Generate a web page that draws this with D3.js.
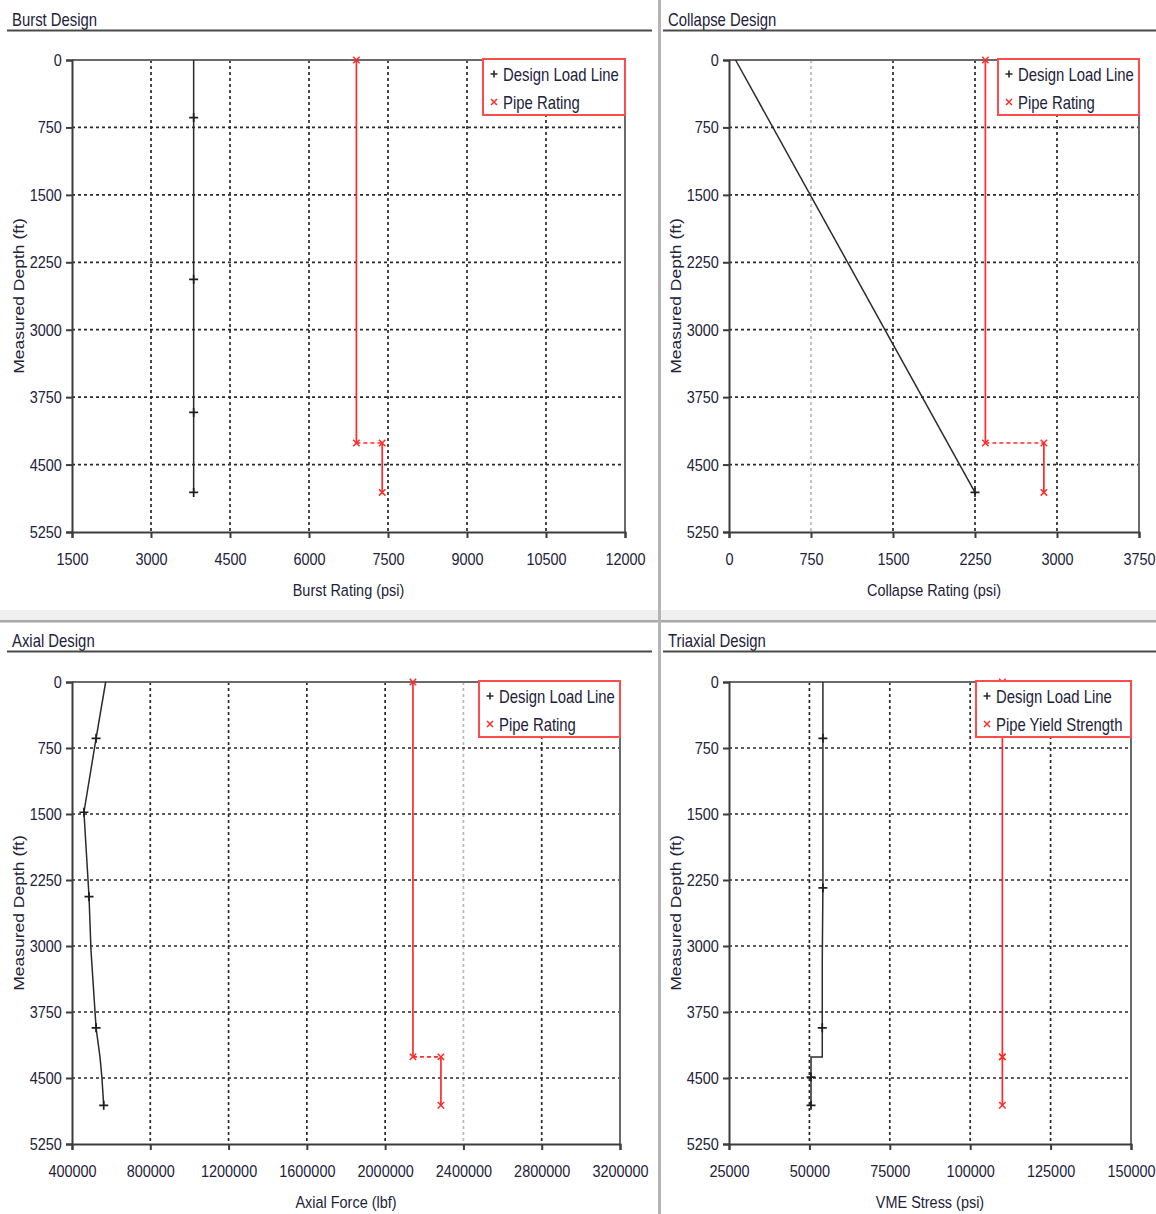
<!DOCTYPE html>
<html>
<head>
<meta charset="utf-8">
<script src="https://cdn.jsdelivr.net/npm/d3@7"></script>
<style>
  html, body { margin: 0; padding: 0; background: #fff; }
  svg { display: block; font-family: "Liberation Sans", Arial, sans-serif; }
</style>
</head>
<body>
<svg id="chart" width="1156" height="1214"></svg>
<script>
// ---- shared depth axis ----
const depthTicks = [0, 750, 1500, 2250, 3000, 3750, 4500, 5250];

// ---- Burst design ----
const burstTicks = [1500, 3000, 4500, 6000, 7500, 9000, 10500, 12000];
const burstLoadDepth = [0, 640, 2440, 3920, 4810];
const burstLoadPsi   = [3810, 3810, 3810, 3810, 3810];
const burstLoadMark  = [0, 1, 1, 1, 1];
const burstRatingDepth = [0, 4260, 4260, 4810];
const burstRatingPsi   = [6900, 6900, 7390, 7390];

// ---- Collapse design ----
const collapseTicks = [0, 750, 1500, 2250, 3000, 3750];
const collapseLoadDepth = [0, 4810];
const collapseLoadPsi   = [60, 2250];
const collapseLoadMark  = [0, 1];
const collapseRatingDepth = [0, 4260, 4260, 4810];
const collapseRatingPsi   = [2345, 2345, 2880, 2880];

// ---- Axial design ----
const axialTicks = [400000, 800000, 1200000, 1600000, 2000000, 2400000, 2800000, 3200000];
const axialLoadDepth = [0, 640, 1480, 2440, 3050, 3930, 4260, 4500, 4810];
const axialLoadLbf   = [572000, 523000, 461000, 487000, 497000, 523000, 543000, 553000, 562000];
const axialLoadMark  = [0, 1, 1, 1, 0, 1, 0, 0, 1];
const axialRatingDepth = [0, 4260, 4260, 4810];
const axialRatingLbf   = [2142000, 2142000, 2285000, 2285000];

// ---- Triaxial design ----
const triaxTicks = [25000, 50000, 75000, 100000, 125000, 150000];
const triaxLoadDepth = [0, 640, 2340, 3180, 3930, 4260, 4260, 4490, 4810];
const triaxLoadPsi   = [54200, 54200, 54200, 54000, 54000, 54000, 50500, 50500, 50500];
const triaxLoadMark  = [0, 1, 1, 0, 1, 0, 0, 1, 1];
const triaxYieldDepth = [0, 4260, 4260, 4810];
const triaxYieldPsi   = [110000, 110000, 110000, 110000];

const panels = [
  { title: "Burst Design", xLabel: "Burst Rating (psi)", ticks: burstTicks,
    load: { d: burstLoadDepth, v: burstLoadPsi, m: burstLoadMark },
    rating: { d: burstRatingDepth, v: burstRatingPsi },
    ratingName: "Pipe Rating", faint: [],
    hx: 7, hw: 645, hy: 26, box: [72, 625, 60, 532], legW: 142 },
  { title: "Collapse Design", xLabel: "Collapse Rating (psi)", ticks: collapseTicks,
    load: { d: collapseLoadDepth, v: collapseLoadPsi, m: collapseLoadMark },
    rating: { d: collapseRatingDepth, v: collapseRatingPsi },
    ratingName: "Pipe Rating", faint: [750],
    hx: 663, hw: 493, hy: 26, box: [729, 1139, 60, 532], legW: 141 },
  { title: "Axial Design", xLabel: "Axial Force (lbf)", ticks: axialTicks,
    load: { d: axialLoadDepth, v: axialLoadLbf, m: axialLoadMark },
    rating: { d: axialRatingDepth, v: axialRatingLbf },
    ratingName: "Pipe Rating", faint: [2400000],
    hx: 7, hw: 645, hy: 647, box: [72, 620, 682, 1144], legW: 141 },
  { title: "Triaxial Design", xLabel: "VME Stress (psi)", ticks: triaxTicks,
    load: { d: triaxLoadDepth, v: triaxLoadPsi, m: triaxLoadMark },
    rating: { d: triaxYieldDepth, v: triaxYieldPsi },
    ratingName: "Pipe Yield Strength", faint: [],
    hx: 663, hw: 493, hy: 647, box: [729, 1131, 682, 1144], legW: 155 }
];

const svg = d3.select("#chart");
const textColor = "#22223a";
const FS = 17;        // font size of all labels
const SQ = 0.85;      // horizontal squeeze of the narrow label face

// text drawn at (x, y) with a narrow face
function label(parent, x, y, str, opts = {}) {
  const size = opts.size || FS;
  const rot = opts.rotate || 0;
  const t = parent.append("text")
    .attr("transform", rot
      ? `translate(${x},${y}) rotate(${rot}) scale(1,${SQ})`
      : `translate(${x},${y}) scale(${SQ},1)`)
    .attr("font-size", size).attr("fill", textColor)
    .attr("text-anchor", opts.anchor || "start")
    .text(str);
  return t;
}

// panel separators
svg.append("rect").attr("x", 0).attr("y", 610).attr("width", 1156).attr("height", 11).attr("fill", "#f0f0f0");
svg.append("rect").attr("x", 0).attr("y", 620).attr("width", 1156).attr("height", 2.5).attr("fill", "#a8a8a8");
svg.append("rect").attr("x", 658).attr("y", 0).attr("width", 3).attr("height", 1214).attr("fill", "#b4b4b4");

function plusPath(x, y, s) { return `M${x - s},${y}H${x + s}M${x},${y - s}V${y + s}`; }
function crossPath(x, y, s) { return `M${x - s},${y - s}L${x + s},${y + s}M${x - s},${y + s}L${x + s},${y - s}`; }

panels.forEach(p => {
  const [x0, x1, y0, y1] = p.box;
  const g = svg.append("g");
  const x = d3.scaleLinear().domain(d3.extent(p.ticks)).range([x0, x1]);
  const y = d3.scaleLinear().domain(d3.extent(depthTicks)).range([y0, y1]);

  // header
  label(g, p.hx + 5, p.hy, p.title, { size: 17.5 });
  g.append("line").attr("x1", p.hx).attr("x2", p.hx + p.hw)
    .attr("y1", p.hy + 4.5).attr("y2", p.hy + 4.5)
    .attr("stroke", "#4a4a4a").attr("stroke-width", 2);

  // grid
  const grid = g.append("g");
  grid.selectAll(".gx").data(p.ticks.slice(1, -1)).join("line")
    .attr("x1", d => x(d)).attr("x2", d => x(d)).attr("y1", y0).attr("y2", y1)
    .attr("stroke", d => p.faint.includes(d) ? "#b8b8b8" : "#2a2a2a")
    .attr("stroke-width", 1.7).attr("stroke-dasharray", "3,3");
  grid.selectAll(".gy").data(depthTicks.slice(1, -1)).join("line")
    .attr("x1", x0).attr("x2", x1).attr("y1", d => y(d)).attr("y2", d => y(d))
    .attr("stroke", "#2a2a2a").attr("stroke-width", 1.7).attr("stroke-dasharray", "3,3");

  // frame (top and right)
  g.append("path").attr("d", `M${x0},${y0}H${x1}V${y1}`)
    .attr("fill", "none").attr("stroke", "#6a6a6a").attr("stroke-width", 2);

  // axes
  const xAxis = d3.axisBottom(x).tickValues(p.ticks).tickSize(6).tickPadding(15).tickFormat(d3.format("d"));
  const yAxis = d3.axisLeft(y).tickValues(depthTicks).tickSize(6).tickPadding(6).tickFormat(d3.format("d"));
  const gx = g.append("g").attr("transform", `translate(0,${y1})`).call(xAxis);
  const gy = g.append("g").attr("transform", `translate(${x0},0)`).call(yAxis);
  [gx, gy].forEach(a => {
    a.select(".domain").attr("stroke", "#3c3c3c").attr("stroke-width", 2);
    a.selectAll(".tick line").attr("stroke", "#3c3c3c").attr("stroke-width", 2);
    a.selectAll(".tick text").attr("font-size", FS).attr("fill", textColor)
      .attr("font-family", "'Liberation Sans', Arial, sans-serif")
      .attr("transform", `scale(${SQ},1)`);
  });

  // axis titles
  label(g, (x0 + x1) / 2, y1 + 64, p.xLabel, { anchor: "middle" });
  label(g, x0 - 48, (y0 + y1) / 2, "Measured Depth (ft)", { anchor: "middle", rotate: -90, size: 17.5 });

  // design load line
  const loadPts = p.load.d.map((d, i) => ({ d, v: p.load.v[i], m: p.load.m[i] }));
  const line = d3.line().x(q => x(q.v)).y(q => y(q.d));
  g.append("path").datum(loadPts).attr("d", line)
    .attr("fill", "none").attr("stroke", "#2b2b2b").attr("stroke-width", 1.5);
  g.selectAll(".lm").data(loadPts.filter(q => q.m)).join("path")
    .attr("d", q => plusPath(x(q.v), y(q.d), 4.5))
    .attr("stroke", "#1e1e1e").attr("stroke-width", 1.7);

  // pipe rating line: vertical runs solid, transitions dashed
  const rPts = p.rating.d.map((d, i) => ({ d, v: p.rating.v[i] }));
  const segs = d3.pairs(rPts);
  g.selectAll(".rs").data(segs).join("line")
    .attr("x1", s => x(s[0].v)).attr("y1", s => y(s[0].d))
    .attr("x2", s => x(s[1].v)).attr("y2", s => y(s[1].d))
    .attr("stroke", "#ff2a2a").attr("stroke-width", 1.7)
    .attr("stroke-dasharray", s => s[0].d === s[1].d ? "4,3" : null);
  g.selectAll(".rm").data(rPts).join("path")
    .attr("d", q => crossPath(x(q.v), y(q.d), 3.2))
    .attr("stroke", "#ff2a2a").attr("stroke-width", 1.5);

  // legend
  const lx = x1 - p.legW, ly = y0 - 1;
  const leg = g.append("g");
  leg.append("rect").attr("x", lx).attr("y", ly).attr("width", p.legW).attr("height", 56)
    .attr("fill", "#fff").attr("stroke", "#ff4d4d").attr("stroke-width", 2);
  leg.append("path").attr("d", plusPath(lx + 11, ly + 15, 3.5))
    .attr("stroke", "#2b2b2b").attr("stroke-width", 1.6);
  label(leg, lx + 20, ly + 22, "Design Load Line", { size: 17.5 });
  leg.append("path").attr("d", crossPath(lx + 11, ly + 43, 3))
    .attr("stroke", "#ff2a2a").attr("stroke-width", 1.5);
  label(leg, lx + 20, ly + 50, p.ratingName, { size: 17.5 });
});
</script>
</body>
</html>
